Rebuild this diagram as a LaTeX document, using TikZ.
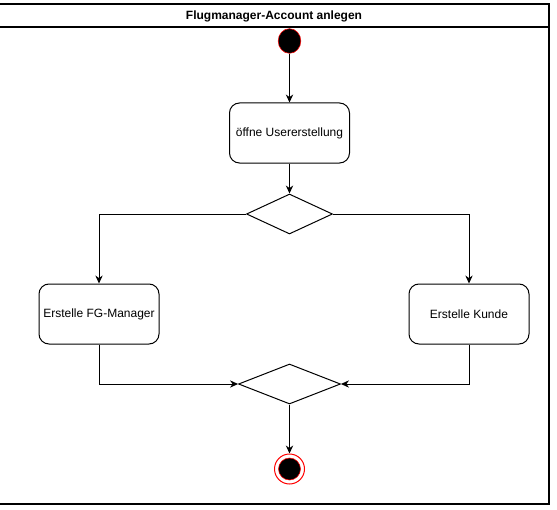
\documentclass[tikz,border=0pt]{standalone}
\usepackage{fontspec}
\setmainfont{Liberation Sans}
\usetikzlibrary{positioning,shapes.geometric,arrows.meta}

\begin{document}
\begin{tikzpicture}[x=0.75pt,y=-0.75pt,
   action/.style={draw,rounded corners=7.5pt,minimum height=45pt,minimum width=90pt,inner sep=0pt,font=\fontsize{9}{11}\selectfont,line width=0.75pt},
   branch/.style={draw,diamond,aspect=1,inner sep=0pt,line width=0.75pt},
   flow/.style={line width=0.75pt,-{Stealth[length=6pt,width=5.5pt]}}]

   \useasboundingbox (0,0) rectangle (557,510);
   \draw[line width=1.1pt] (-3,4) rectangle (549,504);
   \draw[line width=1.1pt] (-3,27) -- (549,27);
   \node[font=\bfseries\fontsize{9}{11}\selectfont] at (274,16) (title) {Flugmanager-Account anlegen};

   \node[ellipse,draw=red,fill=black,minimum width=17pt,minimum height=18.5pt,inner sep=0pt] at (289.5,41) (start) {};
   \node[action] at (289.5,133) (open) {öffne Usererstellung};
   \node[branch,minimum width=64.5pt,minimum height=30pt] at (289.5,214) (choice) {};
   \node[action] at (99,314) (fgmanager) {Erstelle FG-Manager};
   \node[action] at (469,314) (kunde) {Erstelle Kunde};
   \node[branch,minimum width=76.5pt,minimum height=30pt] at (289.5,384) (merge) {};
   \node[circle,draw=red,line width=0.75pt,minimum size=22.5pt,inner sep=0pt] at (289.5,469) (finish) {};
   \node[circle,draw=red,fill=black,minimum size=16.5pt,inner sep=0pt] at (finish) (finishdot) {};

   \draw[flow] (start) -- (open);
   \draw[flow] (open) -- (choice);
   \draw[flow] (choice.west) -| (fgmanager);
   \draw[flow] (choice.east) -| (kunde);
   \draw[flow] (fgmanager) |- (merge.west);
   \draw[flow] (kunde) |- (merge.east);
   \draw[flow] (merge) -- (finish);
\end{tikzpicture}
\end{document}
